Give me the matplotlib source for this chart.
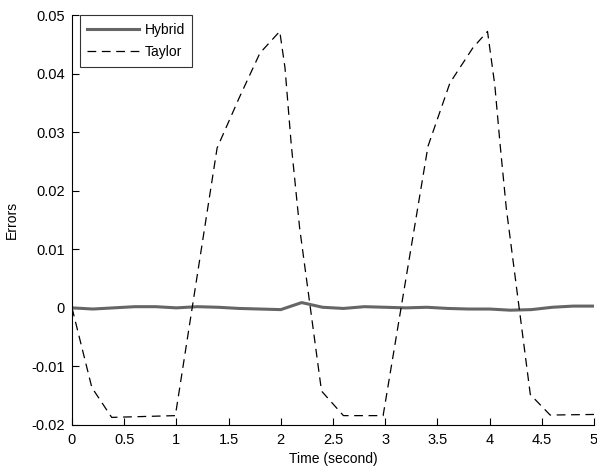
import matplotlib
matplotlib.use("Agg")
import matplotlib.pyplot as plt

plt.rcParams['font.family'] = ['Liberation Sans', 'DejaVu Sans']

# Hybrid error series
hybrid_t = [0, 0.2, 0.4, 0.6, 0.8, 1.0, 1.2, 1.4, 1.6, 1.8, 2.0, 2.2, 2.4, 2.6,
            2.8, 3.0, 3.2, 3.4, 3.6, 3.8, 4.0, 4.2, 4.4, 4.6, 4.8, 5.0]
hybrid_y = [0.0, -0.0002, 0.0, 0.0002, 0.0002, 0.0, 0.0002, 0.0001, -0.0001,
            -0.0002, -0.0003, 0.0009, 0.0001, -0.0001, 0.0002, 0.0001, 0.0,
            0.0001, -0.0001, -0.0002, -0.0002, -0.0004, -0.0003, 0.0001,
            0.0003, 0.0003]

# Taylor error series
taylor_t = [0, 0.19, 0.38, 0.99, 1.39, 1.6, 1.8, 1.99, 2.04, 2.1, 2.18, 2.39,
            2.6, 2.98, 3.41, 3.62, 3.84, 3.98, 4.05, 4.1, 4.16, 4.39, 4.58, 5.0]
taylor_y = [0.0, -0.0136, -0.0187, -0.0184, 0.0273, 0.0358, 0.0435, 0.0472,
            0.041, 0.0279, 0.0137, -0.0142, -0.0184, -0.0184, 0.0276, 0.0384,
            0.0444, 0.0472, 0.038, 0.028, 0.017, -0.0148, -0.0183, -0.0182]

x_ticks = [0, 0.5, 1, 1.5, 2, 2.5, 3, 3.5, 4, 4.5, 5]
x_labels = ['0', '0.5', '1', '1.5', '2', '2.5', '3', '3.5', '4', '4.5', '5']
y_ticks = [-0.02, -0.01, 0, 0.01, 0.02, 0.03, 0.04, 0.05]
y_labels = ['-0.02', '-0.01', '0', '0.01', '0.02', '0.03', '0.04', '0.05']

fig = plt.figure(figsize=(5.97, 4.72), dpi=100)
ax = fig.add_axes([72/597, 1 - 425/472, (594 - 72)/597, (425 - 15)/472])

ax.plot(hybrid_t, hybrid_y, color='#666666', lw=2.2, label='Hybrid')
ax.plot(taylor_t, taylor_y, color='black', lw=0.9, linestyle=(0, (7, 4.5)),
        label='Taylor')

ax.set_xlim(0, 5)
ax.set_ylim(-0.02, 0.05)
ax.set_xticks(x_ticks)
ax.set_xticklabels(x_labels)
ax.set_yticks(y_ticks)
ax.set_yticklabels(y_labels)
ax.tick_params(direction='in', length=5, width=0.8, labelsize=10.5,
               colors='black')
ax.tick_params(axis='x', pad=6)
ax.tick_params(axis='y', pad=5)
ax.spines['top'].set_visible(False)
ax.spines['right'].set_visible(False)
for s in ['left', 'bottom']:
    ax.spines[s].set_linewidth(0.8)

ax.set_xlabel('Time (second)', fontsize=10, labelpad=3)
ax.set_ylabel('Errors', fontsize=10, labelpad=9)

leg = ax.legend(loc='upper left', bbox_to_anchor=(0.015, 1.0), fontsize=10,
                handlelength=3.7, frameon=True, fancybox=False,
                borderaxespad=0, handletextpad=0.4, labelspacing=0.6,
                borderpad=0.55)
leg.get_frame().set_edgecolor('black')
leg.get_frame().set_linewidth(0.8)

fig.savefig('out.png', dpi=100)
